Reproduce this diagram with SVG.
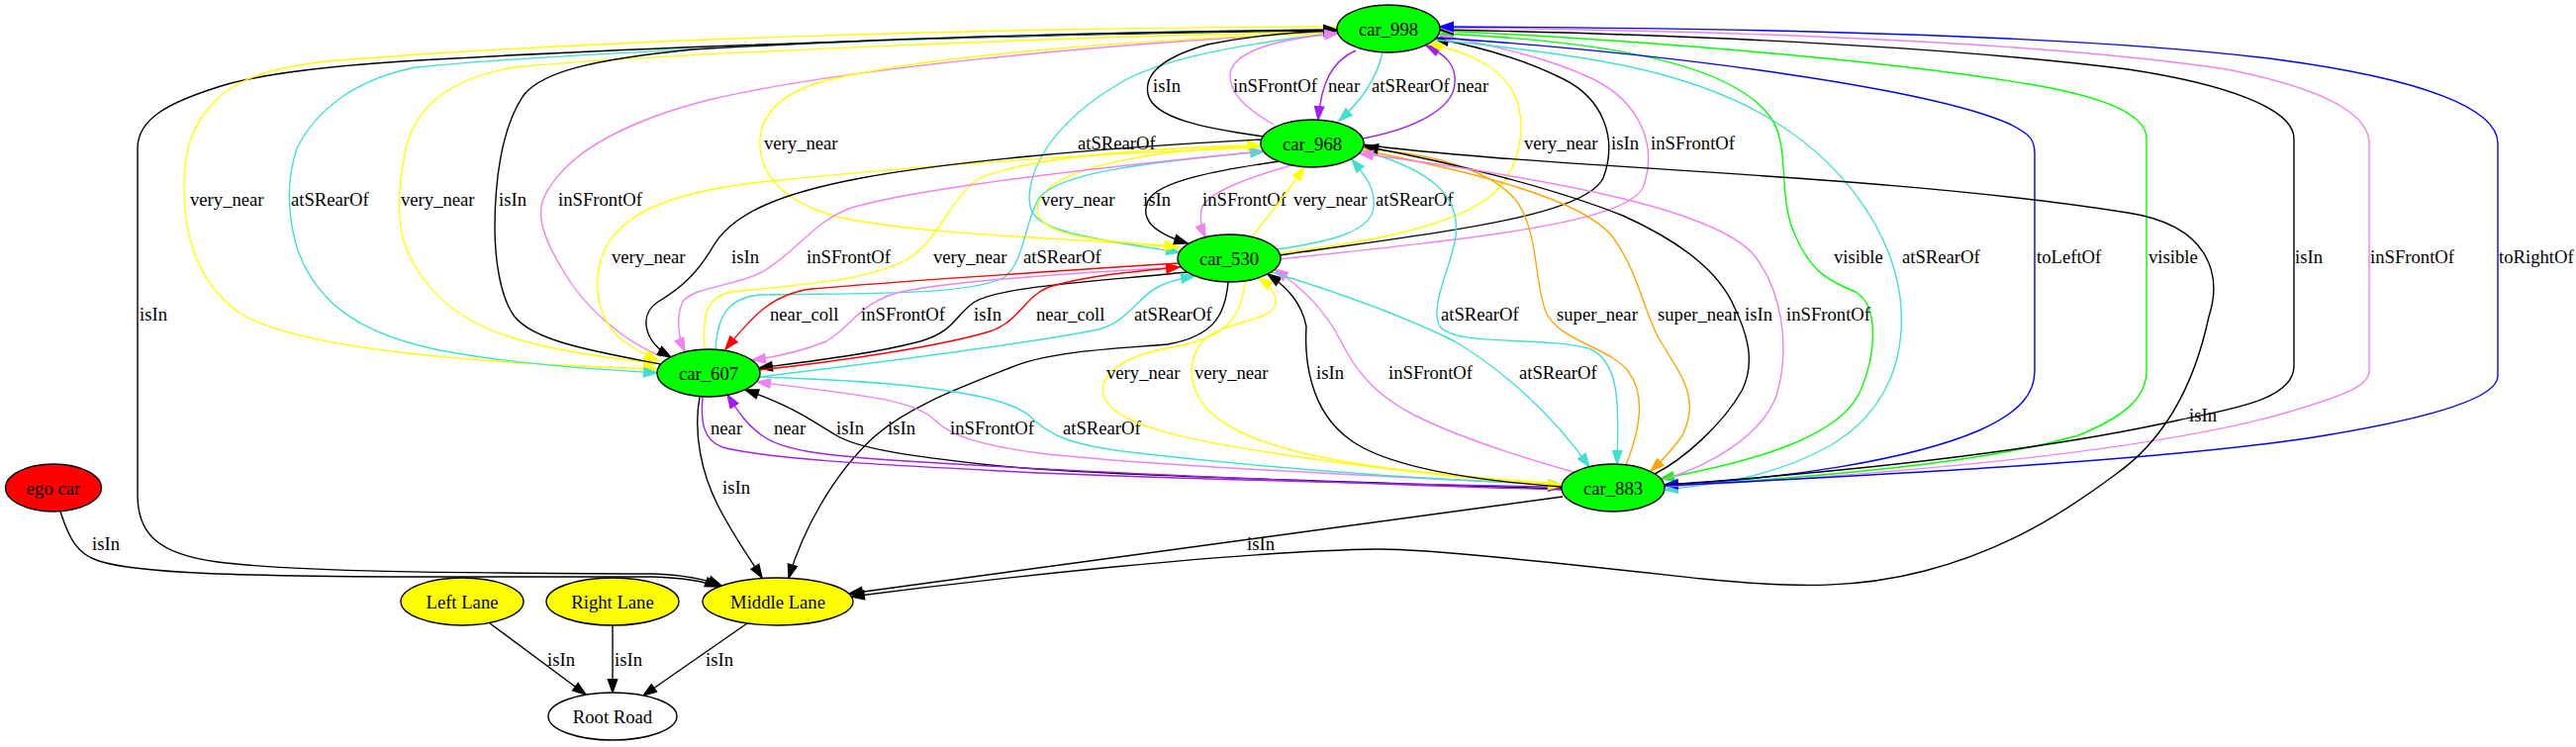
<svg xmlns="http://www.w3.org/2000/svg" width="2603" height="755" viewBox="0 0 2603 755">
<style>
.e{fill:none;stroke-width:1.4}
.k{stroke:#000;marker-end:url(#mk)}
.y{stroke:#ffff00;marker-end:url(#my)}
.t{stroke:#40e0d0;marker-end:url(#mt)}
.v{stroke:#ee82ee;marker-end:url(#mv)}
.p{stroke:#a020f0;marker-end:url(#mp)}
.r{stroke:#ff0000;marker-end:url(#mr)}
.o{stroke:#ffa500;marker-end:url(#mo)}
.g{stroke:#00ff00;marker-end:url(#mg)}
.b{stroke:#0000ff;marker-end:url(#mb)}
text{font-family:"Liberation Serif","Times New Roman",serif;font-size:18.67px;fill:#000}
.n text{text-anchor:middle}
.n ellipse{stroke:#000;stroke-width:1.4}
.car{fill:#00ff00}.lane{fill:#ffff00}
</style>
<defs>
<marker id="mk" markerUnits="userSpaceOnUse" markerWidth="16" markerHeight="12" refX="13.3" refY="4.67" orient="auto" overflow="visible"><path d="M0,0 L13.3,4.67 L0,9.33 Z" fill="#000" stroke="#000" stroke-width="1.3"/></marker>
<marker id="my" markerUnits="userSpaceOnUse" markerWidth="16" markerHeight="12" refX="13.3" refY="4.67" orient="auto" overflow="visible"><path d="M0,0 L13.3,4.67 L0,9.33 Z" fill="#ffff00" stroke="#ffff00" stroke-width="1.3"/></marker>
<marker id="mt" markerUnits="userSpaceOnUse" markerWidth="16" markerHeight="12" refX="13.3" refY="4.67" orient="auto" overflow="visible"><path d="M0,0 L13.3,4.67 L0,9.33 Z" fill="#40e0d0" stroke="#40e0d0" stroke-width="1.3"/></marker>
<marker id="mv" markerUnits="userSpaceOnUse" markerWidth="16" markerHeight="12" refX="13.3" refY="4.67" orient="auto" overflow="visible"><path d="M0,0 L13.3,4.67 L0,9.33 Z" fill="#ee82ee" stroke="#ee82ee" stroke-width="1.3"/></marker>
<marker id="mp" markerUnits="userSpaceOnUse" markerWidth="16" markerHeight="12" refX="13.3" refY="4.67" orient="auto" overflow="visible"><path d="M0,0 L13.3,4.67 L0,9.33 Z" fill="#a020f0" stroke="#a020f0" stroke-width="1.3"/></marker>
<marker id="mr" markerUnits="userSpaceOnUse" markerWidth="16" markerHeight="12" refX="13.3" refY="4.67" orient="auto" overflow="visible"><path d="M0,0 L13.3,4.67 L0,9.33 Z" fill="#ff0000" stroke="#ff0000" stroke-width="1.3"/></marker>
<marker id="mo" markerUnits="userSpaceOnUse" markerWidth="16" markerHeight="12" refX="13.3" refY="4.67" orient="auto" overflow="visible"><path d="M0,0 L13.3,4.67 L0,9.33 Z" fill="#ffa500" stroke="#ffa500" stroke-width="1.3"/></marker>
<marker id="mg" markerUnits="userSpaceOnUse" markerWidth="16" markerHeight="12" refX="13.3" refY="4.67" orient="auto" overflow="visible"><path d="M0,0 L13.3,4.67 L0,9.33 Z" fill="#00ff00" stroke="#00ff00" stroke-width="1.3"/></marker>
<marker id="mb" markerUnits="userSpaceOnUse" markerWidth="16" markerHeight="12" refX="13.3" refY="4.67" orient="auto" overflow="visible"><path d="M0,0 L13.3,4.67 L0,9.33 Z" fill="#0000ff" stroke="#0000ff" stroke-width="1.3"/></marker>
</defs>
<rect width="2603" height="755" fill="#fff"/>
<g id="connectors">
<!-- car_998 -> Middle Lane -->
<path class="e k" d="M1351,31 C1100,33 700,45 440,60 C330,66 260,75 220,88 C170,104 139,120 139,150 L139,500 C139,540 160,560 220,568 C300,578 450,579 660,580 C690,581 712,585 729,592"/>
<text x="141" y="324">isIn</text>
<!-- ego car -> Middle Lane -->
<path class="e k" d="M61,517 C70,545 78,560 100,567 C140,580 250,582 400,583 L660,583 C690,584 710,587 726,593"/>
<text x="93" y="556">isIn</text>
<!-- car_998 -> car_607 -->
<path class="e y" d="M1351,27 C1000,28 600,40 330,62 C260,70 230,85 210,110 C190,135 186,160 186,190 C186,240 200,285 240,315 C300,355 500,368 664,373"/>
<text x="192" y="208">very_near</text>
<path class="e t" d="M1351,30 C1000,32 550,55 420,68 C360,80 320,110 300,150 C290,180 290,215 300,250 C320,310 370,340 450,355 C520,368 600,373 664,377"/>
<text x="294" y="208">atSRearOf</text>
<path class="e y" d="M1351,32 C1100,36 650,55 520,68 C450,80 420,110 410,150 C400,200 400,240 420,270 C450,320 500,340 560,352 C610,362 640,365 664,367"/>
<text x="405" y="208">very_near</text>
<!-- car_607 -> car_998 -->
<path class="e k" d="M667,368 C600,355 540,345 520,320 C505,300 500,260 500,230 C500,190 505,130 530,95 C550,72 600,60 700,50 C900,38 1150,32 1351,30"/>
<text x="504" y="208">isIn</text>
<path class="e v" d="M668,360 C630,345 590,310 570,275 C545,235 540,210 555,190 C580,150 640,120 720,100 C850,70 1100,45 1351,32"/>
<text x="564" y="208">inSFrontOf</text>
<!-- car_998 -> car_530 -->
<path class="e y" d="M1351,33 C1150,40 950,55 840,80 C790,92 770,115 768,140 C766,175 790,205 850,220 C950,240 1100,240 1191,251"/>
<text x="772" y="151">very_near</text>
<path class="e t" d="M1351,33 C1250,45 1170,60 1130,85 C1080,115 1050,150 1042,185 C1035,215 1045,225 1080,235 C1120,245 1160,250 1192,255"/>
<text x="1089" y="151">atSRearOf</text>
<!-- car_968 -> car_998 -->
<path class="e k" d="M1277,138 C1220,130 1165,120 1160,95 C1155,70 1185,55 1220,45 C1260,37 1310,32 1351,31"/>
<text x="1165" y="93">isIn</text>
<path class="e v" d="M1287,126 C1260,110 1242,95 1243,75 C1245,55 1280,40 1352,34"/>
<text x="1246" y="93">inSFrontOf</text>
<!-- car_998 -> car_968 -->
<path class="e p" d="M1370,51 C1345,62 1335,85 1332,121"/>
<text x="1342" y="93">near</text>
<path class="e t" d="M1397,53 C1392,75 1378,100 1353,122"/>
<text x="1386" y="93">atSRearOf</text>
<path class="e p" d="M1377,140 C1430,130 1468,110 1470,85 C1472,65 1460,55 1441,46"/>
<text x="1472" y="93">near</text>
<!-- car_968 -> car_530 -->
<path class="e y" d="M1274,148 C1180,150 1090,165 1060,190 C1040,210 1045,225 1075,235 C1110,245 1160,247 1191,249"/>
<text x="1052" y="208">very_near</text>
<path class="e k" d="M1293,163 C1230,172 1170,183 1160,203 C1152,222 1165,235 1200,246"/>
<text x="1155" y="208">isIn</text>
<path class="e v" d="M1305,167 C1260,180 1218,195 1214,212 C1212,225 1215,233 1218,240"/>
<text x="1215" y="208">inSFrontOf</text>
<!-- car_530 -> car_968 -->
<path class="e y" d="M1265,239 C1285,215 1300,195 1318,169"/>
<text x="1307" y="208">very_near</text>
<path class="e t" d="M1290,252 C1340,245 1385,235 1388,210 C1390,190 1380,178 1366,161"/>
<text x="1390" y="208">atSRearOf</text>
<!-- car_530 -> car_998 -->
<path class="e y" d="M1293,256 C1380,245 1470,230 1510,195 C1540,165 1542,120 1530,95 C1515,65 1480,52 1444,44"/>
<text x="1540" y="151">very_near</text>
<path class="e k" d="M1293,258 C1450,235 1600,220 1620,180 C1635,140 1620,100 1580,80 C1540,60 1500,48 1450,39"/>
<text x="1628" y="151">isIn</text>
<path class="e v" d="M1292,262 C1500,240 1640,225 1660,190 C1675,150 1660,105 1610,80 C1560,56 1500,45 1454,35"/>
<text x="1668" y="151">inSFrontOf</text>
<!-- car_607 -> car_968 -->
<path class="e y" d="M712,353 C710,320 712,300 740,295 C800,288 880,285 920,260 C950,240 960,200 990,180 C1040,160 1150,150 1274,147"/>
<text x="943" y="266">very_near</text>
<path class="e t" d="M723,353 C725,320 735,300 770,298 C850,296 980,300 1015,280 C1035,265 1035,225 1050,200 C1070,175 1150,165 1277,153"/>
<text x="1034" y="266">atSRearOf</text>
<!-- car_968 -> car_607 -->
<path class="e y" d="M1275,149 C1100,155 900,170 760,185 C680,195 630,215 612,250 C598,280 600,320 630,345 C645,355 655,360 665,364"/>
<text x="618" y="266">very_near</text>
<path class="e k" d="M1275,141 C1100,150 950,165 870,180 C790,195 740,215 720,250 C705,275 690,290 665,305 C645,318 650,345 678,361"/>
<text x="739" y="266">isIn</text>
<path class="e v" d="M1274,153 C1100,170 930,190 860,210 C820,225 805,255 770,275 C740,290 700,290 690,305 C683,320 685,340 692,355"/>
<text x="815" y="266">inSFrontOf</text>
<!-- car_530 -> car_607 -->
<path class="e r" d="M1191,266 C1050,275 900,285 820,292 C780,297 760,320 733,353"/>
<text x="778" y="324">near_coll</text>
<path class="e v" d="M1193,270 C1050,278 960,285 910,295 C870,305 860,330 835,345 C810,355 790,360 760,364"/>
<text x="870" y="324">inSFrontOf</text>
<path class="e k" d="M1200,275 C1100,285 1010,290 985,305 C965,318 965,335 930,345 C880,358 820,365 767,372"/>
<text x="984" y="324">isIn</text>
<!-- car_607 -> car_530 -->
<path class="e r" d="M767,374 C850,365 950,350 1000,335 C1030,325 1035,300 1060,290 C1100,278 1150,274 1192,270"/>
<text x="1047" y="324">near_coll</text>
<path class="e t" d="M767,381 C900,365 1050,345 1110,333 C1140,325 1150,300 1170,290 C1180,285 1190,282 1207,279"/>
<text x="1146" y="324">atSRearOf</text>
<!-- car_998 <-> car_883 -->
<path class="e g" d="M1454,34 C1600,40 1750,60 1790,120 C1810,150 1795,200 1815,240 C1830,275 1850,285 1875,295 C1900,310 1895,360 1880,395 C1860,440 1780,465 1678,484"/>
<text x="1853" y="266">visible</text>
<path class="e t" d="M1449,40 C1600,55 1700,70 1780,115 C1860,160 1910,230 1920,300 C1928,370 1900,420 1850,450 C1800,478 1750,488 1682,495"/>
<text x="1922" y="266">atSRearOf</text>
<path class="e b" d="M1452,38 C1700,55 1950,90 2030,125 C2050,135 2056,140 2056,155 L2056,375 C2056,395 2045,415 2000,435 C1930,465 1800,485 1682,490"/>
<text x="2058" y="266">toLeftOf</text>
<path class="e g" d="M1682,491 C1800,485 2000,470 2100,440 C2150,420 2169,400 2169,375 L2169,140 C2169,120 2140,100 2050,85 C1900,60 1650,40 1455,31"/>
<text x="2171" y="266">visible</text>
<path class="e k" d="M1682,490 C1850,478 2050,458 2200,425 C2250,414 2318,405 2318,370 L2318,140 C2318,110 2250,85 2150,70 C1950,45 1700,35 1455,30"/>
<text x="2319" y="266">isIn</text>
<path class="e v" d="M1682,492 C1900,480 2150,460 2300,420 C2370,400 2394,390 2394,375 L2394,145 C2394,115 2350,90 2250,70 C2050,40 1700,30 1455,28"/>
<text x="2395" y="266">inSFrontOf</text>
<path class="e b" d="M1682,491 C1900,480 2200,465 2350,440 C2470,420 2524,400 2524,380 L2524,145 C2524,110 2450,80 2300,60 C2100,35 1750,28 1455,27"/>
<text x="2525" y="266">toRightOf</text>
<!-- car_968 <-> car_883 -->
<path class="e t" d="M1376,152 C1440,170 1480,195 1470,245 C1462,280 1445,310 1455,330 C1470,350 1560,340 1605,352 C1640,365 1635,420 1634,469"/>
<text x="1456" y="324">atSRearOf</text>
<path class="e o" d="M1643,470 C1655,440 1665,400 1645,375 C1625,350 1575,345 1562,315 C1550,285 1555,230 1530,200 C1500,168 1440,155 1379,150"/>
<text x="1573" y="324">super_near</text>
<path class="e o" d="M1378,152 C1480,172 1600,200 1630,240 C1655,275 1660,310 1675,340 C1695,375 1720,400 1700,440 C1690,455 1680,465 1668,476"/>
<text x="1675" y="324">super_near</text>
<path class="e k" d="M1672,479 C1700,465 1740,430 1760,395 C1775,365 1765,335 1750,305 C1735,275 1700,245 1640,218 C1570,190 1470,165 1379,148"/>
<text x="1763" y="324">isIn</text>
<path class="e v" d="M1680,485 C1730,470 1780,440 1795,400 C1810,350 1800,290 1770,255 C1730,215 1600,185 1374,155"/>
<text x="1805" y="324">inSFrontOf</text>
<!-- car_968 -> Middle Lane -->
<path class="e k" d="M1378,146 C1550,170 1900,175 2150,215 C2235,228 2245,280 2232,320 C2215,400 2180,450 2137,480 C2090,515 2030,555 1945,577 C1880,594 1820,595 1720,585 C1600,572 1450,555 1393,555 C1250,557 1000,585 860,603"/>
<text x="2212" y="426">isIn</text>
<!-- car_883 -> Middle Lane -->
<path class="e k" d="M1579,502 L858,600"/>
<text x="1260" y="556">isIn</text>
<!-- car_530 -> Middle Lane -->
<path class="e k" d="M1241,285 C1238,320 1225,340 1180,348 C1120,353 1060,355 1020,372 C970,392 920,410 885,440 C840,480 810,540 797,584"/>
<text x="897" y="439">isIn</text>
<!-- car_607 -> Middle Lane -->
<path class="e k" d="M707,401 C700,440 710,480 725,510 C740,540 758,565 770,584"/>
<text x="730" y="499">isIn</text>
<!-- car_607 <-> car_883 -->
<path class="e k" d="M1579,494 C1300,485 1100,480 1000,470 C930,462 870,455 845,440 C820,425 800,410 753,394"/>
<text x="845" y="439">isIn</text>
<path class="e p" d="M710,401 C708,425 710,445 730,452 C780,465 900,470 1050,478 C1250,486 1450,490 1578,492"/>
<text x="718" y="439">near</text>
<path class="e p" d="M1578,495 C1400,490 1100,478 900,465 C830,460 790,455 770,440 C755,430 745,415 735,399"/>
<text x="782" y="439">near</text>
<path class="e v" d="M1579,490 C1400,482 1150,470 1050,458 C990,450 960,440 945,425 C925,405 880,400 765,386"/>
<text x="960" y="439">inSFrontOf</text>
<path class="e t" d="M767,381 C900,385 1010,395 1040,420 C1060,440 1080,450 1150,458 C1300,475 1450,485 1578,490"/>
<text x="1074" y="439">atSRearOf</text>
<!-- car_530 <-> car_883 -->
<path class="e y" d="M1258,284 C1255,320 1240,340 1190,350 C1140,358 1110,375 1115,400 C1125,430 1200,445 1300,460 C1400,475 1500,485 1578,491"/>
<text x="1118" y="383">very_near</text>
<path class="e y" d="M1578,489 C1450,480 1320,470 1250,435 C1200,410 1195,370 1215,345 C1235,325 1280,325 1288,310 C1292,300 1285,290 1272,281"/>
<text x="1207" y="383">very_near</text>
<path class="e k" d="M1578,492 C1480,485 1400,470 1365,445 C1322,415 1318,360 1320,330 C1315,305 1300,290 1281,277"/>
<text x="1330" y="383">isIn</text>
<path class="e v" d="M1590,477 C1530,460 1470,440 1430,420 C1390,400 1370,375 1355,345 C1340,315 1315,290 1288,272"/>
<text x="1403" y="383">inSFrontOf</text>
<path class="e t" d="M1285,275 C1350,295 1420,320 1470,345 C1520,375 1570,420 1606,472"/>
<text x="1535" y="383">atSRearOf</text>
<!-- lanes -> Root Road -->
<path class="e k" d="M495,630 L592,702"/>
<text x="553" y="673">isIn</text>
<path class="e k" d="M619,632 L619,700"/>
<text x="621" y="673">isIn</text>
<path class="e k" d="M755,630 L650,703"/>
<text x="713" y="673">isIn</text>
</g>
<g id="car_998" class="n"><ellipse class="car" cx="1403" cy="29" rx="52" ry="24"/><text x="1403" y="35.5">car_998</text></g>
<g id="car_968" class="n"><ellipse class="car" cx="1326" cy="145" rx="52" ry="24"/><text x="1326" y="151.5">car_968</text></g>
<g id="car_530" class="n"><ellipse class="car" cx="1242" cy="261" rx="52" ry="24"/><text x="1242" y="267.5">car_530</text></g>
<g id="car_607" class="n"><ellipse class="car" cx="716" cy="377" rx="52" ry="24"/><text x="716" y="383.5">car_607</text></g>
<g id="car_883" class="n"><ellipse class="car" cx="1630" cy="493" rx="52" ry="24"/><text x="1630" y="499.5">car_883</text></g>
<g id="ego_car" class="n"><ellipse cx="54" cy="493" rx="48.5" ry="24" fill="#ff0000"/><text x="54" y="499.5">ego car</text></g>
<g id="left_lane" class="n"><ellipse class="lane" cx="467" cy="608" rx="62" ry="24"/><text x="467" y="614.5">Left Lane</text></g>
<g id="right_lane" class="n"><ellipse class="lane" cx="619" cy="608" rx="67" ry="24"/><text x="619" y="614.5">Right Lane</text></g>
<g id="middle_lane" class="n"><ellipse class="lane" cx="786" cy="608" rx="76" ry="24"/><text x="786" y="614.5">Middle Lane</text></g>
<g id="root_road" class="n"><ellipse cx="619" cy="724" rx="65" ry="24" fill="#fff"/><text x="619" y="730.5">Root Road</text></g>
</svg>
